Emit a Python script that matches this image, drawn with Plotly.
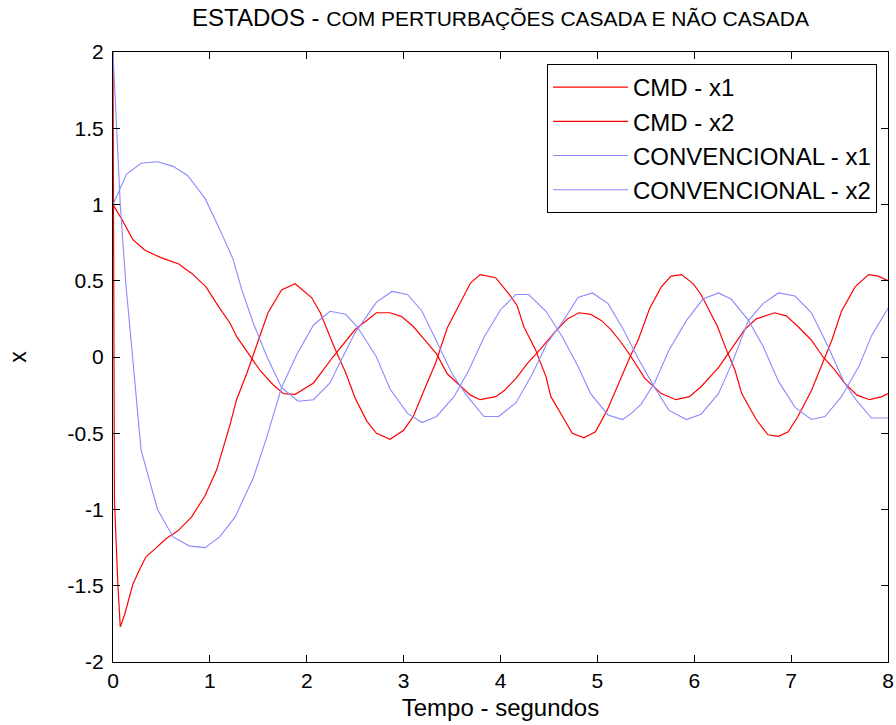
import plotly.graph_objects as go

# ---- data ----
t_cmd_x1 = [0, 0.085, 0.205, 0.33, 0.50, 0.68, 0.74, 0.81, 0.96, 1.08, 1.21, 1.28, 1.40, 1.52, 1.65,
            1.76, 1.88, 2.07, 2.27, 2.50, 2.72, 2.86, 2.98, 3.10, 3.22, 3.34, 3.45, 3.59, 3.69, 3.79,
            3.95, 4.04, 4.16, 4.28, 4.41, 4.55, 4.69, 4.81, 4.93, 5.04, 5.14, 5.24, 5.35, 5.49, 5.66,
            5.81, 5.95, 6.07, 6.25, 6.38, 6.52, 6.64, 6.83, 6.95, 7.07, 7.21, 7.33, 7.45, 7.55, 7.68,
            7.81, 7.94, 8.0]
cmd_x1 = [1.0, 0.91, 0.77, 0.70, 0.65, 0.61, 0.58, 0.55, 0.46, 0.34, 0.22, 0.13, 0.02, -0.09, -0.18,
          -0.24, -0.245, -0.17, 0.0, 0.18, 0.29, 0.29, 0.265, 0.20, 0.11, 0.02, -0.11, -0.195, -0.25, -0.28,
          -0.26, -0.22, -0.14, -0.04, 0.05, 0.155, 0.25, 0.29, 0.28, 0.24, 0.18, 0.10, 0.0, -0.14, -0.24,
          -0.28, -0.26, -0.195, -0.07, 0.05, 0.18, 0.25, 0.29, 0.27, 0.20, 0.11, 0.0, -0.085, -0.17, -0.25,
          -0.28, -0.26, -0.24]

t_cmd_x2 = [0, 0.015, 0.05, 0.075, 0.12, 0.17, 0.205, 0.27, 0.34, 0.43, 0.55, 0.67, 0.81, 0.95, 1.07,
            1.21, 1.275, 1.38, 1.50, 1.60, 1.74, 1.88, 2.05, 2.14, 2.28, 2.40, 2.50, 2.62, 2.72, 2.86,
            3.0, 3.10, 3.21, 3.33, 3.45, 3.57, 3.69, 3.79, 3.95, 4.09, 4.17, 4.24, 4.36, 4.47, 4.52,
            4.64, 4.74, 4.86, 4.98, 5.10, 5.22, 5.35, 5.42, 5.54, 5.66, 5.76, 5.87, 5.99, 6.07, 6.16,
            6.24, 6.33, 6.42, 6.49, 6.56, 6.64, 6.76, 6.87, 6.97, 7.07, 7.21, 7.31, 7.42, 7.52, 7.66,
            7.80, 7.90, 8.0]
cmd_x2 = [2.0, -0.94, -1.49, -1.77, -1.69, -1.58, -1.49, -1.40, -1.31, -1.26, -1.19, -1.14, -1.05, -0.91, -0.74,
          -0.44, -0.28, -0.11, 0.11, 0.29, 0.44, 0.48, 0.39, 0.29, 0.07, -0.10, -0.27, -0.42, -0.50, -0.54,
          -0.48, -0.39, -0.22, -0.04, 0.19, 0.34, 0.485, 0.54, 0.52, 0.41, 0.34, 0.20, 0.05, -0.13, -0.26,
          -0.39, -0.50, -0.53, -0.49, -0.35, -0.17, 0.02, 0.11, 0.32, 0.46, 0.53, 0.54, 0.48, 0.41, 0.30,
          0.20, 0.05, -0.085, -0.24, -0.32, -0.41, -0.51, -0.52, -0.49, -0.39, -0.22, -0.06, 0.11, 0.30, 0.46,
          0.54, 0.53, 0.50]

t_conv_x1 = [0, 0.14, 0.29, 0.46, 0.62, 0.77, 0.95, 1.10, 1.24, 1.33, 1.45, 1.59, 1.74, 1.91, 2.07,
             2.24, 2.34, 2.50, 2.72, 2.88, 3.04, 3.19, 3.35, 3.50, 3.66, 3.83, 3.98, 4.16, 4.33, 4.48,
             4.64, 4.80, 4.95, 5.11, 5.26, 5.43, 5.59, 5.74, 5.92, 6.07, 6.25, 6.39, 6.56, 6.71, 6.87,
             7.04, 7.21, 7.38, 7.55, 7.68, 7.83, 8.0]
conv_x1 = [1.0, 1.20, 1.27, 1.28, 1.25, 1.19, 1.04, 0.84, 0.64, 0.44, 0.22, 0.0, -0.20, -0.29, -0.28,
           -0.17, -0.04, 0.16, 0.36, 0.43, 0.41, 0.30, 0.09, -0.11, -0.26, -0.39, -0.39, -0.30, -0.11, 0.09,
           0.23, 0.39, 0.42, 0.35, 0.19, -0.02, -0.20, -0.35, -0.41, -0.375, -0.24, -0.04, 0.24, 0.35, 0.42,
           0.40, 0.29, 0.07, -0.17, -0.29, -0.40, -0.40]

t_conv_x2 = [0, 0.075, 0.13, 0.19, 0.29, 0.46, 0.62, 0.79, 0.95, 1.10, 1.26, 1.45, 1.59, 1.74, 1.90,
             2.07, 2.24, 2.40, 2.52, 2.72, 2.86, 3.04, 3.19, 3.34, 3.52, 3.67, 3.83, 4.00, 4.16, 4.29,
             4.47, 4.64, 4.80, 4.93, 5.11, 5.26, 5.35, 5.45, 5.59, 5.74, 5.92, 6.09, 6.25, 6.38, 6.56,
             6.71, 6.87, 7.04, 7.21, 7.35, 7.52, 7.70, 7.83, 8.0]
conv_x2 = [2.0, 1.0, 0.5, 0.07, -0.61, -1.0, -1.18, -1.24, -1.25, -1.18, -1.05, -0.79, -0.52, -0.20, 0.02,
           0.21, 0.30, 0.28, 0.20, 0.0, -0.21, -0.37, -0.43, -0.39, -0.26, -0.09, 0.13, 0.31, 0.41, 0.41,
           0.30, 0.13, -0.06, -0.24, -0.38, -0.41, -0.37, -0.31, -0.17, 0.046, 0.24, 0.38, 0.42, 0.38, 0.24,
           0.07, -0.16, -0.33, -0.41, -0.39, -0.26, -0.06, 0.14, 0.32]

series_names = ["CMD - x1", "CMD - x2", "CONVENCIONAL - x1", "CONVENCIONAL - x2"]

x_ticks = [0, 1, 2, 3, 4, 5, 6, 7, 8]
x_tick_labels = ["0", "1", "2", "3", "4", "5", "6", "7", "8"]
y_ticks = [-2, -1.5, -1, -0.5, 0, 0.5, 1, 1.5, 2]
y_tick_labels = ["-2", "-1.5", "-1", "-0.5", "0", "0.5", "1", "1.5", "2"]

FONT = "Liberation Sans, Arial, Helvetica, sans-serif"
RED = "#ff0000"
BLUE = "#8a8aff"

fig = go.Figure()
for t, y, name, color, w in [
    (t_cmd_x1, cmd_x1, series_names[0], RED, 1.2),
    (t_cmd_x2, cmd_x2, series_names[1], RED, 1.2),
    (t_conv_x1, conv_x1, series_names[2], BLUE, 1.1),
    (t_conv_x2, conv_x2, series_names[3], BLUE, 1.1),
]:
    assert len(t) == len(y)
    fig.add_trace(go.Scatter(x=t, y=y, mode="lines", name=name,
                             line=dict(color=color, width=w)))

axis_common = dict(
    showgrid=False, zeroline=False, showline=True, linecolor="black", linewidth=1,
    mirror="allticks", ticks="inside", ticklen=7, tickcolor="black", tickwidth=1,
    tickfont=dict(family=FONT, size=21, color="black"), automargin=False,
)

fig.update_layout(
    width=896, height=725,
    margin=dict(l=113, r=8, t=52, b=63),
    paper_bgcolor="white", plot_bgcolor="white",
    font=dict(family=FONT, color="black"),
    title=dict(
        text="<span style='font-size:24px'>ESTADOS - </span><span style='font-size:21px'>COM PERTURBAÇÕES CASADA E NÃO CASADA</span>",
        x=0.5, xref="paper", xanchor="center",
        y=1 - 20 / 725, yref="container", yanchor="middle",
        font=dict(family=FONT, color="black"),
    ),
    xaxis=dict(range=[0, 8], tickvals=x_ticks, ticktext=x_tick_labels,
               title=dict(text="Tempo - segundos", font=dict(family=FONT, size=24), standoff=7),
               ticklabelstandoff=0, **axis_common),
    yaxis=dict(range=[-2, 2], tickvals=y_ticks, ticktext=y_tick_labels,
               title=dict(text="x", font=dict(family=FONT, size=23), standoff=34),
               ticklabelstandoff=4, **axis_common),
    legend=dict(
        x=(877 - 113) / 775, xanchor="right", y=(662 - 64) / 610, yanchor="top",
        bgcolor="white", bordercolor="black", borderwidth=1,
        font=dict(family=FONT, size=24, color="black"),
        itemwidth=75, tracegroupgap=0,
    ),
    showlegend=True,
)

fig.write_html("out.html")
